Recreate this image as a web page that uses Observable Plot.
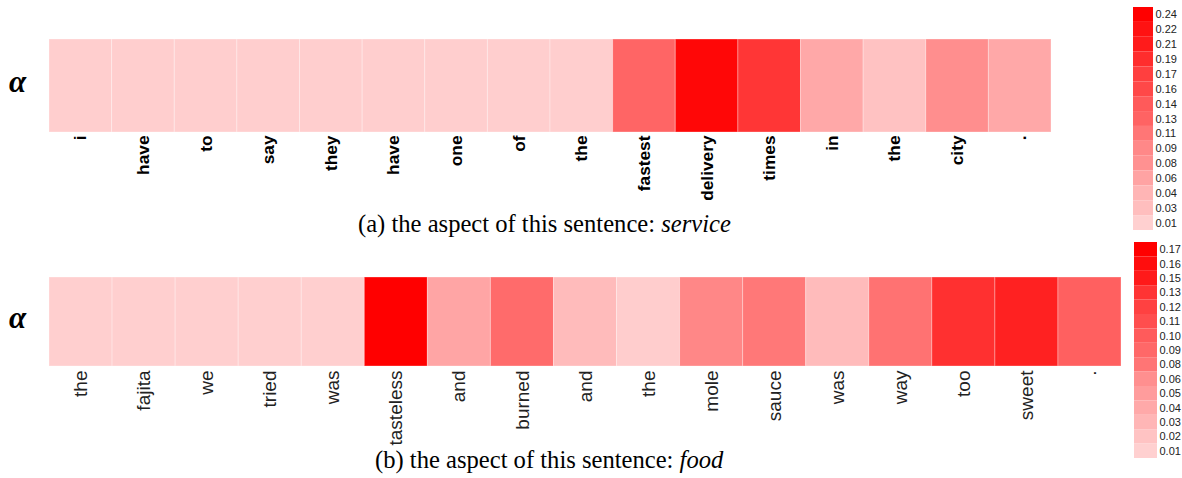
<!DOCTYPE html>
<html><head><meta charset="utf-8">
<script src="https://cdn.jsdelivr.net/npm/d3@7"></script>
<script src="https://cdn.jsdelivr.net/npm/@observablehq/plot@0.6"></script>
<style>
body{margin:0;background:#fff;}
#root{position:relative;width:1182px;height:478px;overflow:hidden;background:#fff;}
.cap{font-family:"Liberation Serif","Times New Roman",serif;font-size:24.6px;line-height:24.6px;white-space:nowrap;color:#000;}
.alpha{font-family:"Liberation Serif","Times New Roman",serif;font-weight:bold;font-style:italic;font-size:31px;line-height:31px;color:#000;}
</style></head><body><div id="root"></div>
<script>
// ---- data ----
const wordsA = ["i","have","to","say","they","have","one","of","the","fastest","delivery","times","in","the","city","."];
const valuesA = [0.012,0.012,0.012,0.012,0.012,0.012,0.012,0.012,0.012,0.128,0.232,0.180,0.054,0.025,0.083,0.054];
const legendA = [0.24,0.22,0.21,0.19,0.17,0.16,0.14,0.13,0.11,0.09,0.08,0.06,0.04,0.03,0.01];
const aspectA = "service";

const wordsB = ["the","fajita","we","tried","was","tasteless","and","burned","and","the","mole","sauce","was","way","too","sweet","."];
const valuesB = [0.011,0.011,0.011,0.011,0.011,0.170,0.043,0.088,0.026,0.012,0.066,0.078,0.026,0.082,0.133,0.145,0.096];
const legendB = [0.17,0.16,0.15,0.13,0.12,0.11,0.10,0.09,0.08,0.06,0.05,0.04,0.03,0.02,0.01];
const aspectB = "food";

const lowColor = "#ffd0d0", highColor = "#ff0000";

const root = document.getElementById("root");
function place(el, left, top) {
  el.style.position = "absolute";
  el.style.left = left + "px";
  el.style.top = top + "px";
  root.appendChild(el);
  return el;
}
function colorOpts(vals) {
  return {type: "linear", domain: [d3.min(vals), d3.max(vals)], range: [lowColor, highColor], interpolate: "rgb"};
}

function heat(words, values, legendVals, o) {
  const data = words.map((w, i) => ({i, w, v: values[i]}));
  return Plot.plot({
    width: o.width, height: o.height,
    marginLeft: 49, marginRight: o.mr, marginTop: o.mt, marginBottom: o.mb,
    style: {background: "transparent", overflow: "visible", fontFamily: "'Liberation Sans', Arial, sans-serif",
            fontSize: o.fontSize + "px", fontWeight: o.fontWeight, color: o.textColor},
    x: {type: "band", domain: d3.range(words.length), padding: 0, round: false, axis: "bottom", tickRotate: -90,
        tickSize: 0, tickPadding: o.pad, tickFormat: i => words[i], label: null},
    color: colorOpts(legendVals),
    marks: [
      Plot.cell(data, {x: "i", fill: "v", inset: 0, stroke: "#fff", strokeOpacity: 0.3, strokeWidth: 1})
    ]
  });
}

function legend(ticks, o) {
  return Plot.plot({
    width: o.width, height: o.height,
    marginLeft: 0, marginRight: o.mr, marginTop: o.mt, marginBottom: o.mb,
    style: {background: "transparent", overflow: "visible", fontFamily: "'Liberation Sans', Arial, sans-serif",
            fontSize: o.fontSize + "px", color: "#222"},
    y: {type: "band", domain: ticks, padding: 0, round: false, axis: "right", tickSize: 0, tickPadding: 2,
        tickFormat: d3.format(".2f"), label: null},
    color: colorOpts(ticks),
    marks: [Plot.cell(ticks, {y: d => d, fill: d => d})]
  });
}

place(heat(wordsA, valuesA, legendA, {width: 1060, height: 215, mr: 9, mt: 39, mb: 83, pad: 3, fontSize: 17.3, fontWeight: "bold", textColor: "#000"}), 0, 0);
place(heat(wordsB, valuesB, legendB, {width: 1130, height: 215, mr: 9, mt: 37, mb: 89, pad: 4, fontSize: 19, fontWeight: "normal", textColor: "#222"}), 0, 240);
place(legend(legendA, {width: 52, height: 240, mr: 32, mt: 7, mb: 10, fontSize: 11}), 1133, 0);
place(legend(legendB, {width: 48, height: 243, mr: 25, mt: 7, mb: 20, fontSize: 11}), 1134, 235);

function alpha(top) {
  const d = document.createElement("div");
  d.className = "alpha";
  d.textContent = "α";
  place(d, 9, top);
}
alpha(66);
alpha(302);

function caption(letter, aspect, left, top) {
  const d = document.createElement("div");
  d.className = "cap";
  d.append("(" + letter + ") the aspect of this sentence: ");
  const i = document.createElement("i");
  i.textContent = aspect;
  d.append(i);
  place(d, left, top);
}
caption("a", aspectA, 358, 212);
caption("b", aspectB, 375, 448);
</script>
</body></html>
